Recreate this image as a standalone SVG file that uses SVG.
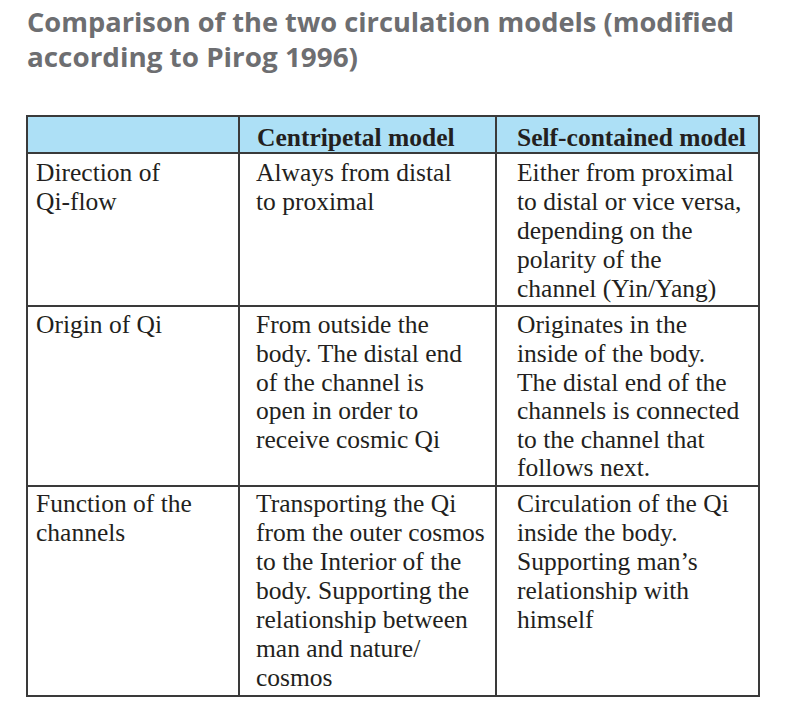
<svg xmlns="http://www.w3.org/2000/svg" width="792" height="726" viewBox="0 0 792 726">
<style>
.title{font-family:"Open Sans","Noto Sans","Liberation Sans",sans-serif;font-weight:700;font-size:27.5px;fill:#6d6e71}
.cell{font-family:"Liberation Serif","Times New Roman",serif;font-size:25.5px;fill:#231f20}
.head{font-family:"Liberation Serif","Times New Roman",serif;font-size:25.5px;font-weight:bold;fill:#231f20}
.grid{stroke:#3a3a3a;stroke-width:2;fill:none}
</style>
<rect width="792" height="726" fill="#ffffff"/>
<g id="title">
<text class="title" x="27" y="32" textLength="707" lengthAdjust="spacingAndGlyphs">Comparison of the two circulation models (modified</text>
<text class="title" x="27" y="67" textLength="331" lengthAdjust="spacingAndGlyphs">according to Pirog 1996)</text>
</g>
<g id="table-bg">
<rect x="27" y="116" width="732" height="37" fill="#ade0f6"/>
</g>
<g id="grid" class="grid">
<rect x="27" y="116" width="732" height="580"/>
<line x1="27" y1="153" x2="759" y2="153"/>
<line x1="27" y1="306" x2="759" y2="306"/>
<line x1="27" y1="486" x2="759" y2="486"/>
<line x1="239" y1="116" x2="239" y2="696"/>
<line x1="496" y1="116" x2="496" y2="696"/>
</g>
<g id="header">
<text class="head" x="257" y="146">Centripetal model</text>
<text class="head" x="517" y="146">Self-contained model</text>
</g>
<g id="row1">
<text class="cell" x="36" y="181">Direction of</text>
<text class="cell" x="36" y="210">Qi-flow</text>
<text class="cell" x="256" y="181">Always from distal</text>
<text class="cell" x="256" y="210">to proximal</text>
<text class="cell" x="517" y="181">Either from proximal</text>
<text class="cell" x="517" y="210">to distal or vice versa,</text>
<text class="cell" x="517" y="239">depending on the</text>
<text class="cell" x="517" y="268">polarity of the</text>
<text class="cell" x="517" y="297">channel (Yin/Yang)</text>
</g>
<g id="row2">
<text class="cell" x="36" y="333">Origin of Qi</text>
<text class="cell" x="256" y="333">From outside the</text>
<text class="cell" x="256" y="362">body. The distal end</text>
<text class="cell" x="256" y="391">of the channel is</text>
<text class="cell" x="256" y="419">open in order to</text>
<text class="cell" x="256" y="448">receive cosmic Qi</text>
<text class="cell" x="517" y="333">Originates in the</text>
<text class="cell" x="517" y="362">inside of the body.</text>
<text class="cell" x="517" y="391">The distal end of the</text>
<text class="cell" x="517" y="419">channels is connected</text>
<text class="cell" x="517" y="448">to the channel that</text>
<text class="cell" x="517" y="476">follows next.</text>
</g>
<g id="row3">
<text class="cell" x="36" y="512">Function of the</text>
<text class="cell" x="36" y="541">channels</text>
<text class="cell" x="256" y="512">Transporting the Qi</text>
<text class="cell" x="256" y="541">from the outer cosmos</text>
<text class="cell" x="256" y="570">to the Interior of the</text>
<text class="cell" x="256" y="599">body. Supporting the</text>
<text class="cell" x="256" y="628">relationship between</text>
<text class="cell" x="256" y="657">man and nature/</text>
<text class="cell" x="256" y="686">cosmos</text>
<text class="cell" x="517" y="512">Circulation of the Qi</text>
<text class="cell" x="517" y="541">inside the body.</text>
<text class="cell" x="517" y="570">Supporting man’s</text>
<text class="cell" x="517" y="599">relationship with</text>
<text class="cell" x="517" y="628">himself</text>
</g>
</svg>
